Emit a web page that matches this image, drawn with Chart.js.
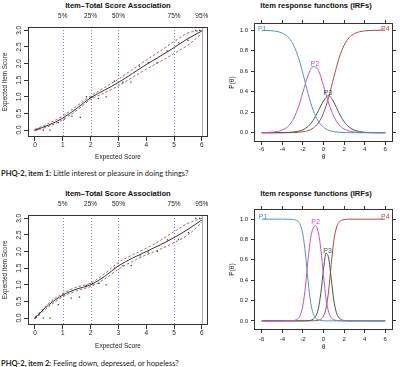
<!DOCTYPE html>
<html><head><meta charset="utf-8">
<script src="https://cdn.jsdelivr.net/npm/chart.js@4.4.1/dist/chart.umd.min.js"></script>
<style>
html,body{margin:0;padding:0;background:#fff;}
body{width:400px;height:367px;position:relative;overflow:hidden;}
canvas{position:absolute;}
.t{position:absolute;font-family:'Liberation Sans',Arial,sans-serif;font-weight:bold;font-size:7.6px;color:#111;white-space:nowrap;transform:translate(-50%,-50%);}
.cap{position:absolute;left:1px;font-family:Lato,'Open Sans',sans-serif;font-size:7.5px;color:#222;white-space:nowrap;transform:translateY(-50%);}
.cap b{font-weight:bold;}
</style></head><body>
<div class="t" style="left:118px;top:5px">Item–Total Score Association</div>
<div class="t" style="left:316px;top:5px">Item response functions (IRFs)</div>
<div class="t" style="left:118px;top:193px">Item–Total Score Association</div>
<div class="t" style="left:316px;top:193px">Item response functions (IRFs)</div>
<div class="cap" style="top:173px"><b>PHQ-2, item 1:</b> Little interest or pleasure in doing things?</div>
<div class="cap" style="top:363px"><b>PHQ-2, item 2:</b> Feeling down, depressed, or hopeless?</div>
<canvas id="tl" width="212" height="170" style="left:0;top:0"></canvas>
<canvas id="tr" width="188" height="170" style="left:212px;top:0"></canvas>
<canvas id="bl" width="212" height="170" style="left:0;top:188px"></canvas>
<canvas id="br" width="188" height="170" style="left:212px;top:188px"></canvas>
<script>
// ---------- data ----------
const itemXTicks = [0,1,2,3,4,5,6];
const itemYTicks = [0,0.5,1,1.5,2,2.5,3];
const pctPositions = [1,2,3,5,6];
const pctLabels = ['5%','25%','50%','75%','95%'];

const expScore = [0,0.5,1,1.5,2,2.5,3,3.5,4,4.5,5,5.5,6];
const item1Mean  = [0,0.15,0.36,0.65,0.97,1.2,1.43,1.7,1.97,2.22,2.48,2.75,2.98];
const item1Upper = [0.02,0.2,0.42,0.72,1.02,1.28,1.53,1.82,2.1,2.38,2.66,2.92,3.0];
const item1Lower = [-0.02,0.11,0.31,0.59,0.92,1.12,1.33,1.58,1.83,2.06,2.3,2.56,2.9];
const item1ObsX = [0,0.04,0.1,0.3,0.54,0.84,1.05,1.33,1.63,1.85,2.0,2.05,2.28,2.56,2.86,3.16,3.45,3.76,4.07,4.39,4.75,5.17,5.5,5.78,5.92];
const item1ObsY = [0,0.01,0.02,0,0,0.22,0.33,0.42,0.38,1.0,0.98,0.98,0.95,1.0,1.47,1.44,1.44,1.92,2.02,2.02,2.38,2.62,2.7,3.0,3.0];

const item2Mean  = [0,0.4,0.69,0.87,1.0,1.25,1.57,1.8,2.0,2.2,2.42,2.67,2.95];
const item2Upper = [0.03,0.45,0.74,0.93,1.05,1.33,1.67,1.9,2.1,2.33,2.6,2.85,3.0];
const item2Lower = [-0.02,0.35,0.64,0.82,0.95,1.17,1.47,1.7,1.9,2.07,2.27,2.5,2.88];
const item2ObsX = [0,0.05,0.15,0.3,0.54,0.84,1.0,1.3,1.6,1.85,2.0,2.08,2.3,2.56,2.86,3.16,3.46,3.78,4.07,4.4,4.76,5.16,5.52,5.78,5.92];
const item2ObsY = [0,0.02,0.1,0,0,0.4,0.69,0.6,0.63,0.98,1.03,1.03,1.04,1.0,1.5,1.58,1.58,1.87,1.98,2.01,2.35,2.37,2.57,3.0,3.0];

const irfXTicks = [-6,-4,-2,0,2,4,6];
const irfYTicks = [0,0.2,0.4,0.6,0.8,1.0];
const irfNames = ['P1','P2','P3','P4'];

const theta1 = [-6,-5.5,-5,-4.5,-4,-3.5,-3,-2.5,-2,-1.5,-1,-0.5,0,0.5,1,1.5,2,2.5,3,3.5,4,4.5,5,5.5,6];
const irf1P1 = [0.999,0.997,0.994,0.987,0.971,0.938,0.872,0.754,0.579,0.382,0.218,0.111,0.053,0.025,0.011,0.005,0.002,0.001,0.0005,0,0,0,0,0,0];
const irf1P2 = [0.001,0.003,0.006,0.012,0.027,0.058,0.12,0.232,0.395,0.56,0.645,0.61,0.46,0.29,0.16,0.078,0.037,0.017,0.008,0.004,0.002,0.001,0,0,0];
const irf1P3 = [0,0,0,0.001,0.001,0.003,0.006,0.014,0.029,0.062,0.122,0.214,0.31,0.362,0.3,0.194,0.108,0.054,0.026,0.012,0.005,0.002,0.001,0,0];
const irf1P4 = [0,0,0,0,0,0.001,0.002,0.004,0.01,0.021,0.046,0.096,0.192,0.345,0.54,0.723,0.853,0.928,0.966,0.985,0.993,0.997,0.999,0.999,1.0];
const irf1LabelAt = [[-5.95,1.01],[-0.85,0.67],[0.42,0.385],[6.0,1.01]];

const theta2 = [-6,-5,-4,-3.5,-3,-2.75,-2.5,-2.25,-2,-1.75,-1.5,-1.25,-1,-0.75,-0.5,-0.25,0,0.25,0.5,0.75,1,1.25,1.5,1.75,2,2.5,3,4,5,6];
const irf2P1 = [1,1,1,0.999,0.998,0.993,0.98,0.942,0.848,0.656,0.394,0.182,0.07,0.025,0.009,0.003,0.001,0,0,0,0,0,0,0,0,0,0,0,0,0];
const irf2P2 = [0,0,0,0.001,0.002,0.007,0.02,0.058,0.152,0.343,0.604,0.812,0.913,0.935,0.865,0.7,0.445,0.216,0.086,0.031,0.011,0.004,0.001,0,0,0,0,0,0,0];
const irf2P3 = [0,0,0,0,0,0,0,0,0,0,0.002,0.005,0.016,0.045,0.12,0.28,0.507,0.665,0.617,0.415,0.205,0.082,0.03,0.011,0.004,0,0,0,0,0];
const irf2P4 = [0,0,0,0,0,0,0,0,0,0,0,0,0.001,0.002,0.006,0.017,0.047,0.126,0.297,0.554,0.784,0.914,0.969,0.989,0.996,1,1,1,1,1];
const irf2LabelAt = [[-5.9,1.02],[-0.77,0.967],[0.39,0.686],[6.0,1.02]];

// ---------- styling ----------
const F = "'Liberation Sans', Arial, sans-serif";
const irfColors = ['#4a94cf','#c94fc9','#3a5e44','#b04a46'];

const boxPlugin = {id:'box', afterDatasetsDraw(chart){
  const a = chart.chartArea, c = chart.ctx;
  c.save(); c.strokeStyle = '#333'; c.lineWidth = 1;
  c.strokeRect(Math.round(a.left)+0.5, Math.round(a.top)+0.5, Math.round(a.right-a.left)-1, Math.round(a.bottom-a.top)-1);
  c.restore();
}};
const pctPlugin = {id:'pct', beforeDatasetsDraw(chart){
  const x = chart.scales.x, a = chart.chartArea, c = chart.ctx;
  c.save(); c.lineWidth = 1;
  pctPositions.forEach((v,i)=>{
    const px = Math.round(x.getPixelForValue(v))+0.5;
    c.beginPath();
    if (i === pctPositions.length-1) { c.setLineDash([]); c.strokeStyle = '#a8a8b4'; }
    else { c.setLineDash([1,2]); c.strokeStyle = '#8286c4'; }
    c.moveTo(px, a.top); c.lineTo(px, a.bottom); c.stroke();
  });
  c.restore();
}};
function irfLabelPlugin(labelAt){
  return {id:'irfLabels', afterDatasetsDraw(chart){
    const c = chart.ctx, sx = chart.scales.x, sy = chart.scales.y;
    c.save(); c.font = "7px " + F; c.textAlign = 'center'; c.textBaseline = 'middle';
    labelAt.forEach((p,i)=>{
      c.fillStyle = irfColors[i];
      c.fillText(irfNames[i], sx.getPixelForValue(p[0]), sy.getPixelForValue(p[1]));
    });
    c.restore();
  }};
}
const setTicks = arr => s => { s.ticks = arr.map(v=>({value:v})); };

function itemChart(id, mean, upper, lower, obsX, obsY, g){
  const line = (vals, color, dash, w) => ({
    data: expScore.map((x,i)=>({x, y: vals[i]})), showLine:true, borderColor:color,
    borderDash:dash, borderWidth:w, pointRadius:0, cubicInterpolationMode:'monotone', fill:false});
  const datasets = [
    line(upper, '#a0504f', [2.5,2], 0.9),
    line(lower, '#a0504f', [2.5,2], 0.9),
    line(mean, '#333', [], 1),
    {data: obsX.map((x,i)=>({x, y: obsY[i]})), showLine:false, pointRadius:0.9, pointStyle:'rect',
     backgroundColor:'#333', borderColor:'#333', borderWidth:0}
  ];
  const tf = {family:F, size:6.5};
  new Chart(document.getElementById(id), {
    type:'scatter', data:{datasets},
    options:{animation:false, responsive:false, devicePixelRatio:1,
      layout:{padding:{left:0,right:4,top:0,bottom:0}},
      plugins:{legend:{display:false}, tooltip:{enabled:false}},
      scales:{
        x:{type:'linear', position:'bottom', min:-0.25, max:6.22,
           afterBuildTicks:setTicks(itemXTicks), afterFit:s=>{s.height=g.bottomH;},
           grid:{drawOnChartArea:false, color:'#333', tickLength:4}, border:{display:false},
           ticks:{font:tf, color:'#222', padding:0, maxRotation:0, autoSkip:false, callback:v=>String(v)},
           title:{display:true, text:'Expected Score', font:tf, color:'#222', padding:{top:0,bottom:g.xTitlePad}}},
        x2:{type:'linear', position:'top', min:-0.25, max:6.22,
           afterBuildTicks:setTicks(pctPositions), afterFit:s=>{s.height=g.topH;},
           grid:{drawOnChartArea:false, color:'transparent', tickLength:7}, border:{display:false},
           ticks:{font:tf, color:'#222', padding:0, maxRotation:0, autoSkip:false, callback:(v,i)=>pctLabels[i]}},
        y:{type:'linear', position:'left', min:-0.21, max:3.1,
           afterBuildTicks:setTicks(itemYTicks), afterFit:s=>{s.width=28;},
           grid:{drawOnChartArea:false, color:'#333', tickLength:4}, border:{display:false},
           ticks:{font:tf, color:'#222', padding:0, minRotation:90, maxRotation:90, crossAlign:'center', autoSkip:false, callback:v=>v.toFixed(1)},
           title:{display:true, text:'Expected Item Score', font:{family:F,size:6.3}, color:'#222', padding:{top:1,bottom:0}}}
      }},
    plugins:[pctPlugin, boxPlugin]
  });
}

function irfChart(id, theta, series, labelAt, g){
  const datasets = series.map((vals,k)=>({
    data: theta.map((t,i)=>({x:t, y:vals[i]})), showLine:true, borderColor:irfColors[k],
    borderWidth:1, pointRadius:0, cubicInterpolationMode:'monotone', fill:false}));
  const tf = {family:F, size:6};
  const tickGrid = {drawOnChartArea:false, color:'#333', tickLength:3};
  new Chart(document.getElementById(id), {
    type:'scatter', data:{datasets},
    options:{animation:false, responsive:false, devicePixelRatio:1,
      layout:{padding:0},
      plugins:{legend:{display:false}, tooltip:{enabled:false}},
      scales:{
        x:{type:'linear', position:'bottom', min:-6.75, max:6.75,
           afterBuildTicks:setTicks(irfXTicks), afterFit:s=>{s.height=g.bottomH;},
           grid:tickGrid, border:{display:false},
           ticks:{font:tf, color:'#222', padding:g.xTickPad, maxRotation:0, autoSkip:false, callback:v=>String(v)},
           title:{display:true, text:'θ', font:{family:F,size:6.5}, color:'#222', padding:{top:0,bottom:g.xTitlePad}}},
        x2:{type:'linear', position:'top', min:-6.75, max:6.75,
           afterBuildTicks:setTicks(irfXTicks), afterFit:s=>{s.height=g.topH;},
           grid:tickGrid, border:{display:false}, ticks:{display:false}},
        y:{type:'linear', position:'left', min:g.ymin, max:g.ymax,
           afterBuildTicks:setTicks(irfYTicks), afterFit:s=>{s.width=42;},
           grid:tickGrid, border:{display:false},
           ticks:{font:tf, color:'#222', padding:3, autoSkip:false, callback:v=>v.toFixed(1)},
           title:{display:true, text:'P(θ)', font:{family:F,size:6.5}, color:'#222', padding:{top:16,bottom:0}}},
        y2:{type:'linear', position:'right', min:g.ymin, max:g.ymax,
           afterBuildTicks:setTicks(irfYTicks), afterFit:s=>{s.width=7;},
           grid:tickGrid, border:{display:false}, ticks:{display:false}}
      }},
    plugins:[boxPlugin, irfLabelPlugin(labelAt)]
  });
}

itemChart('tl', item1Mean, item1Upper, item1Lower, item1ObsX, item1ObsY, {bottomH:33, topH:27, xTitlePad:9});
itemChart('bl', item2Mean, item2Upper, item2Lower, item2ObsX, item2ObsY, {bottomH:33, topH:27, xTitlePad:8});
irfChart('tr', theta1, [irf1P1,irf1P2,irf1P3,irf1P4], irf1LabelAt, {bottomH:28, topH:23, xTickPad:0.5, xTitlePad:9, ymin:-0.09, ymax:1.07});
irfChart('br', theta2, [irf2P1,irf2P2,irf2P3,irf2P4], irf2LabelAt, {bottomH:28, topH:21, xTickPad:2.4, xTitlePad:7, ymin:-0.09, ymax:1.1});
</script>
</body></html>
